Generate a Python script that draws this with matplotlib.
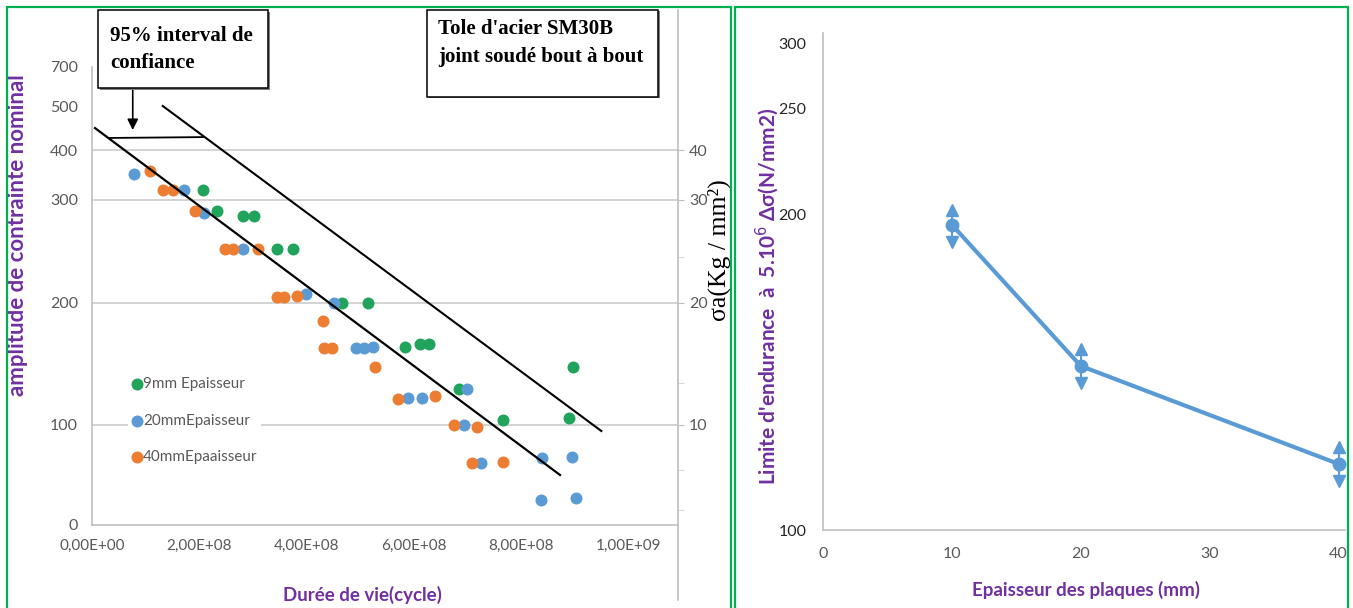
import numpy as np
import matplotlib.pyplot as plt
from matplotlib.patches import Rectangle
from matplotlib.lines import Line2D

# ---- données ----
# durée de vie en cycles (x 1e8), amplitude de contrainte en N/mm2
x_9mm = [2.07, 2.33, 2.81, 3.02, 3.45, 3.74, 4.67, 5.14, 5.83, 6.11, 6.29, 6.85, 7.67, 8.98, 8.90]
y_9mm = [319, 289, 284, 284, 252, 252, 200, 200, 164, 166, 166, 129, 104, 147, 106]

x_20mm = [0.78, 1.71, 2.09, 2.81, 4.00, 4.51, 4.93, 5.07, 5.25, 5.90, 6.16, 7.00, 6.93, 7.26, 8.40, 8.96, 8.38, 9.03]
y_20mm = [352, 319, 287, 252, 208, 200, 163, 163, 164, 122, 122, 129, 100, 62, 67, 68, 25, 27]

x_40mm = [1.08, 1.32, 1.51, 1.92, 2.48, 2.63, 3.09, 3.45, 3.59, 3.82, 4.30, 4.32, 4.47, 5.27, 5.70, 6.39, 6.76, 7.19, 7.09, 7.67]
y_40mm = [358, 319, 319, 289, 252, 252, 252, 205, 205, 206, 185, 163, 163, 147, 121, 124, 100, 98, 62, 63]

# droites tracées à la main (moyenne et borne 95%)
droite_inf_x = [0.056, 8.73]
droite_inf_y = [451, 50]
droite_sup_x = [1.32, 9.50]
droite_sup_y = [505, 94]
intervalle_x = [0.32, 2.07]
intervalle_y = [428, 430]

# graphique de droite
epaisseur = [10, 20, 40]
limite_endurance = [196.6, 151.9, 120.9]
erreur = [5.5, 5.5, 5.5]

# axes non linéaires de la figure d'origine (valeur -> position)
gauche_val = [0, 100, 200, 300, 400, 500, 700]
gauche_pos = [0, 100, 222.5, 325.5, 375, 418, 458]
droite_val = [100, 200, 250, 300, 310]
droite_pos = [0, 316, 422, 487, 500]

violet = "#7030A0"
gris = "#595959"
sans = ["Lato", "DejaVu Sans"]
serif = ["Liberation Serif", "DejaVu Serif"]


def echelle(vals, pos):
    return (lambda v: np.interp(v, vals, pos), lambda p: np.interp(p, pos, vals))


fig = plt.figure(figsize=(13.53, 6.08), dpi=100)
W, H = 1353, 608

# ---------------- graphique de gauche ----------------
ax1 = fig.add_axes([92 / W, 1 - 525 / H, 586 / W, 458 / H])
ax1.set_yscale("function", functions=echelle(gauche_val, gauche_pos))
ax1.set_xlim(0, 10.93)
ax1.set_ylim(0, 700)

for g in [100, 200, 300, 400]:
    ax1.axhline(g, color="#D0D0D0", lw=1.3, zorder=0)

ax1.scatter(x_9mm, y_9mm, s=58, color="#20A35A", zorder=3, label="9mm Epaisseur")
ax1.scatter(x_20mm, y_20mm, s=58, color="#5B9BD5", zorder=3, label="20mmEpaisseur")
ax1.scatter(x_40mm, y_40mm, s=58, color="#ED7D31", zorder=3, label="40mmEpaaisseur")

ax1.plot(droite_inf_x, droite_inf_y, color="black", lw=1.6, zorder=4)
ax1.plot(droite_sup_x, droite_sup_y, color="black", lw=1.5, zorder=4)
ax1.plot(intervalle_x, intervalle_y, color="black", lw=1.3, zorder=4)
ax1.annotate("", xy=(0.76, 440), xytext=(0.76, 625),
             arrowprops=dict(arrowstyle="-|>", color="black", lw=1.2, mutation_scale=16))

ax1.set_xticks([0, 2, 4, 6, 8, 10])
ax1.set_xticklabels(["0,00E+00", "2,00E+08", "4,00E+08", "6,00E+08", "8,00E+08", "1,00E+09"])
ax1.set_yticks(gauche_val)
ax1.set_yticklabels([str(v) for v in gauche_val])
ax1.tick_params(length=0, colors=gris, labelsize=11.5, pad=10)
ax1.tick_params(axis="x", labelsize=11)
for lab in ax1.get_xticklabels() + ax1.get_yticklabels():
    lab.set_family(sans)
for s in ["top", "right"]:
    ax1.spines[s].set_visible(False)
for s in ["left", "bottom"]:
    ax1.spines[s].set_color("#BFBFBF")
    ax1.spines[s].set_linewidth(1.2)

leg = ax1.legend(loc="center left", bbox_to_anchor=(0.048, 0.228), frameon=True,
                 facecolor="white", edgecolor="none", framealpha=1,
                 handletextpad=0.0, handlelength=0.8, labelspacing=1.5,
                 borderpad=0.2, prop={"family": sans, "size": 11})
for t in leg.get_texts():
    t.set_color(gris)

# axe secondaire kg/mm2
ax2 = ax1.twinx()
ax2.set_yscale("function", functions=echelle([v / 10 for v in gauche_val], gauche_pos))
ax2.set_ylim(0, 70)
ax2.set_yticks([10, 20, 30, 40])
ax2.set_yticks([1.5, 5.5, 13.4, 24.4], minor=True)
ax2.tick_params(axis="y", which="major", length=4, color="#BFBFBF", colors=gris, labelsize=11.5, pad=4)
ax2.tick_params(axis="y", which="minor", length=4, color="#D0D0D0")
for lab in ax2.get_yticklabels():
    lab.set_family(sans)
    lab.set_color(gris)
for s in ax2.spines.values():
    s.set_visible(False)
fig.add_artist(Line2D([678 / W, 678 / W], [1 - 10 / H, 1 - 600 / H], color="#BFBFBF", lw=1.2))

fig.text(18 / W, 1 - 235 / H, "amplitude de contrainte nominal", rotation=90, ha="center", va="center",
         color=violet, fontsize=16, fontweight="bold", family=sans)
fig.text(362 / W, 1 - 595 / H, "Durée de vie(cycle)", ha="center", va="center",
         color=violet, fontsize=13.5, fontweight="bold", family=sans)
fig.text(719 / W, 1 - 250 / H, "σa(Kg / mm²)", rotation=90, ha="center", va="center",
         color="black", fontsize=18.5, family=serif)

# encadrés de texte
for (x0, y0, x1, y1) in [(98, 10, 268, 88), (427, 10, 658, 97)]:
    fig.add_artist(Rectangle((x0 / W + 1.5 / W, 1 - y1 / H - 1.5 / H), (x1 - x0) / W, (y1 - y0) / H,
                             facecolor="#7F7F7F", edgecolor="none", zorder=5))
    fig.add_artist(Rectangle((x0 / W, 1 - y1 / H), (x1 - x0) / W, (y1 - y0) / H,
                             facecolor="white", edgecolor="black", lw=1.1, zorder=6))
fig.text(110 / W, 1 - 26 / H, "95% interval de\nconfiance", ha="left", va="top", fontsize=15,
         fontweight="bold", family=serif, linespacing=1.5, zorder=7)
fig.text(438 / W, 1 - 19 / H, "Tole d'acier SM30B\njoint soudé bout à bout", ha="left", va="top",
         fontsize=15, fontweight="bold", family=serif, linespacing=1.55, zorder=7)

# ---------------- graphique de droite ----------------
ax3 = fig.add_axes([823 / W, 1 - 530 / H, 522 / W, 497 / H])
ax3.set_yscale("function", functions=echelle(droite_val, droite_pos))
ax3.set_xlim(0, 40.5)
ax3.set_ylim(100, 307.7)
bleu = "#5B9BD5"
ax3.errorbar(epaisseur, limite_endurance, yerr=erreur, color=bleu, lw=3, elinewidth=1.5,
             capsize=0, marker="o", markersize=9, clip_on=False, zorder=3)
haut = np.array(limite_endurance) + np.array(erreur)
bas = np.array(limite_endurance) - np.array(erreur)
ax3.plot(epaisseur, haut, ls="none", marker="^", markersize=8, color=bleu, clip_on=False, zorder=3)
ax3.plot(epaisseur, bas, ls="none", marker="v", markersize=8, color=bleu, clip_on=False, zorder=3)
ax3.set_xticks([0, 10, 20, 30, 40])
ax3.set_yticks([100, 200, 250, 300])
ax3.tick_params(length=0, labelsize=11.5, pad=12)
ax3.tick_params(axis="x", colors=gris)
ax3.tick_params(axis="y", colors="#262626")
for lab in ax3.get_xticklabels() + ax3.get_yticklabels():
    lab.set_family(sans)
for s in ["top", "right"]:
    ax3.spines[s].set_visible(False)
for s in ["left", "bottom"]:
    ax3.spines[s].set_color("#BFBFBF")
    ax3.spines[s].set_linewidth(1.2)

fig.text(767 / W, 1 - 296 / H, "Limite d'endurance  à  5.10$^6$ Δσ(N/mm2)", rotation=90,
         ha="center", va="center", color=violet, fontsize=15, fontweight="bold", family=sans)
fig.text(1086 / W, 1 - 590 / H, "Epaisseur des plaques (mm)", ha="center", va="center",
         color=violet, fontsize=13.5, fontweight="bold", family=sans)

# cadres verts
fig.add_artist(Rectangle((7 / W, -0.05), 724 / W, 1.05 - 7 / H, facecolor="none",
                         edgecolor="#00B050", lw=1.6, zorder=8))
fig.add_artist(Rectangle((735 / W, -0.05), 613 / W, 1.05 - 7 / H, facecolor="none",
                         edgecolor="#00B050", lw=1.6, zorder=8))

fig.savefig("out.png", dpi=100)
